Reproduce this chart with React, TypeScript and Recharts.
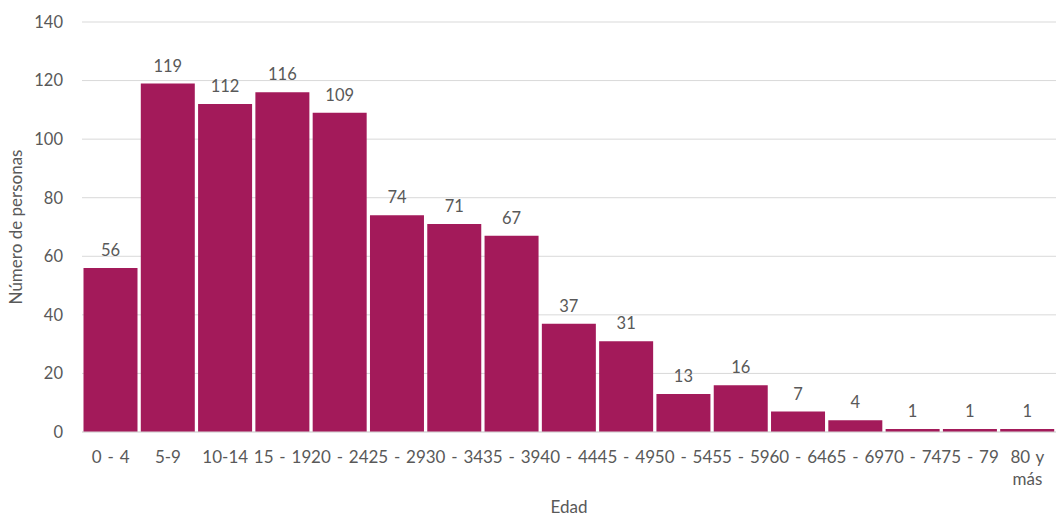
import { Bar, BarChart, CartesianGrid, Label, LabelList, XAxis, YAxis } from "recharts"

const ageGroups = [
  "0 - 4", "5-9", "10-14", "15 - 19", "20 - 24", "25 - 29", "30 - 34", "35 - 39",
  "40 - 44", "45 - 49", "50 - 54", "55 - 59", "60 - 64", "65 - 69", "70 - 74", "75 - 79", "80 y\nmás",
]
const personas = [56, 119, 112, 116, 109, 74, 71, 67, 37, 31, 13, 16, 7, 4, 1, 1, 1]
const yTicks = [0, 20, 40, 60, 80, 100, 120, 140]

const data = ageGroups.map((edad, i) => ({ edad, personas: personas[i] }))

const FONT = "Lato, 'Open Sans', sans-serif"
const TEXT = "#595959"

function AgeTick({ x, y, payload }: any) {
  const lines = String(payload.value).split("\n")
  return (
    <text x={x} y={y} textAnchor="middle" fill={TEXT} fontSize={17} fontFamily={FONT} wordSpacing={1.5}>
      {lines.map((l, i) => (
        <tspan key={i} x={x} dy={i === 0 ? "0.71em" : "1.3em"}>
          {l}
        </tspan>
      ))}
    </text>
  )
}

export default function App() {
  return (
    <div style={{ position: "absolute", left: 0, top: 0, background: "#fff" }}>
      <BarChart
        width={1056}
        height={516}
        data={data}
        margin={{ top: 22, right: 0, left: 0, bottom: 0 }}
        barCategoryGap={1.5}
      >
        <CartesianGrid vertical={false} stroke="#d9d9d9" />
        <XAxis
          dataKey="edad"
          interval={0}
          height={84}
          tickSize={0}
          tickMargin={19}
          axisLine={{ stroke: "#d9d9d9" }}
          tick={<AgeTick />}
        >
          <Label value="Edad" position="insideBottom" offset={3} fill={TEXT} fontSize={17} fontFamily={FONT} />
        </XAxis>
        <YAxis
          width={82}
          domain={[0, 140]}
          ticks={yTicks}
          tickSize={0}
          tickMargin={19}
          axisLine={false}
          tick={{ fill: TEXT, fontSize: 16.5, fontFamily: FONT }}
        >
          <Label
            value="Número de personas"
            angle={-90}
            position="insideLeft"
            offset={16}
            style={{ textAnchor: "middle" }}
            fill={TEXT}
            fontSize={17}
            fontFamily={FONT}
          />
        </YAxis>
        <Bar dataKey="personas" fill="#A31A5A" isAnimationActive={false}>
          <LabelList dataKey="personas" position="top" offset={12} fill={TEXT} fontSize={16.5} fontFamily={FONT} />
        </Bar>
      </BarChart>
    </div>
  )
}
